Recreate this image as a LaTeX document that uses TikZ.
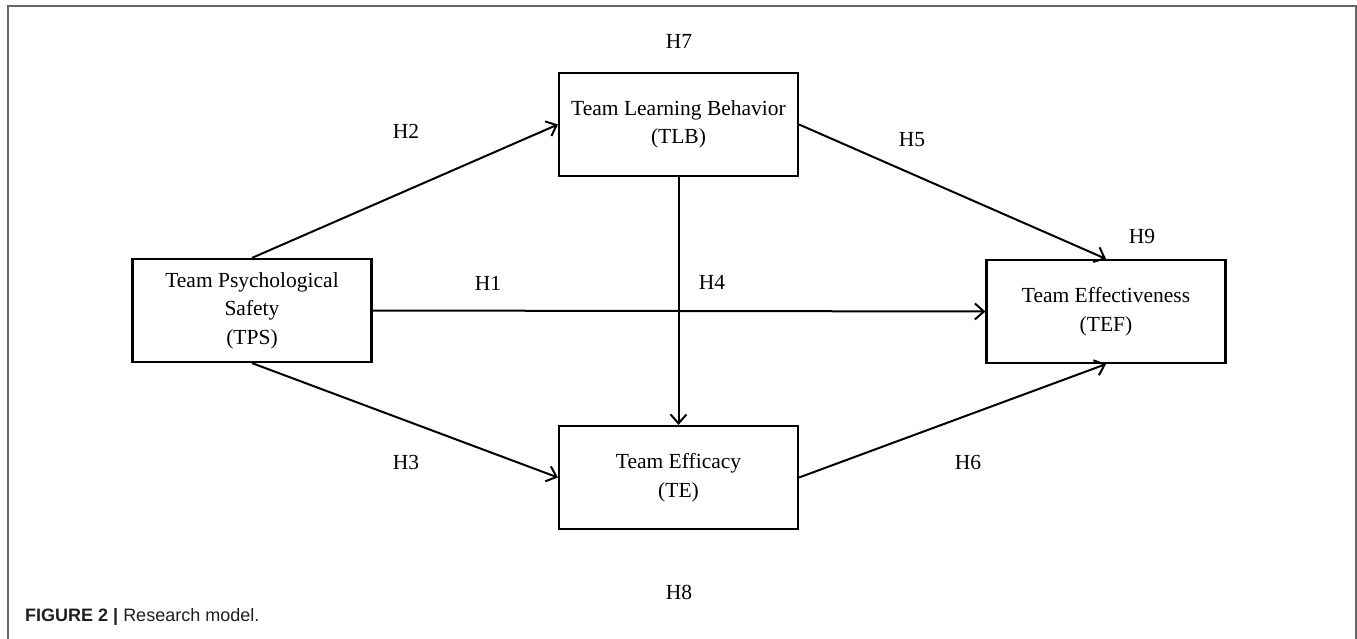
\documentclass[tikz,border=0pt]{standalone}
\usepackage{fontspec}
\setmainfont{Liberation Serif}
\newfontfamily\capfont{Liberation Sans}
\usetikzlibrary{arrows.meta}
\begin{document}
\begin{tikzpicture}[x=1pt,y=-1pt,
  var/.style={draw, line width=2.2pt, minimum width=239pt, minimum height=103pt, align=center, inner sep=0pt,
    font=\fontsize{21.5}{28.5}\selectfont},
  hyp/.style={font=\fontsize{21.5}{27.5}\selectfont, inner sep=0pt},
  link/.style={line width=2pt, -{Straight Barb[length=9pt,width=16pt]}}]
\useasboundingbox (0,0) rectangle (1357,639);
\draw[line width=1.6pt, color=black!60] (8,660) -- (8,6) -- (1356,6) -- (1356,660);
\node[var] (tps) at (252,310.5) {Team Psychological\\Safety\\(TPS)};
\node[var] (tlb) at (678.5,124.5) {Team Learning Behavior\\(TLB)};
\node[var] (tef) at (1106,311.5) {Team Effectiveness\\(TEF)};
\node[var] (te) at (678.5,477.5) {Team Efficacy\\(TE)};
\draw[link] (tps.north) -- (tlb.west);
\draw[link] (tps.east) -- (tef.west);
\draw[link] (tps.south) -- (te.west);
\draw[link] (tlb.south) -- (te.north);
\draw[link] (tlb.east) -- (tef.north);
\draw[link] (te.east) -- (tef.south);
\node[hyp] (h7) at (679,41) {H7};
\node[hyp] (h2) at (406,131) {H2};
\node[hyp] (h5) at (912,140) {H5};
\node[hyp] (h9) at (1142,236) {H9};
\node[hyp] (h4) at (712,282) {H4};
\node[hyp] (h1) at (488,283) {H1};
\node[hyp] (h3) at (406,462) {H3};
\node[hyp] (h6) at (968,462) {H6};
\node[hyp] (h8) at (679,592) {H8};
\node[anchor=base west, inner sep=0pt, font=\capfont\fontsize{18}{22}\selectfont, text=black!88] (cap) at (25,621) {\textbf{FIGURE 2 |} Research model.};
\end{tikzpicture}
\end{document}
